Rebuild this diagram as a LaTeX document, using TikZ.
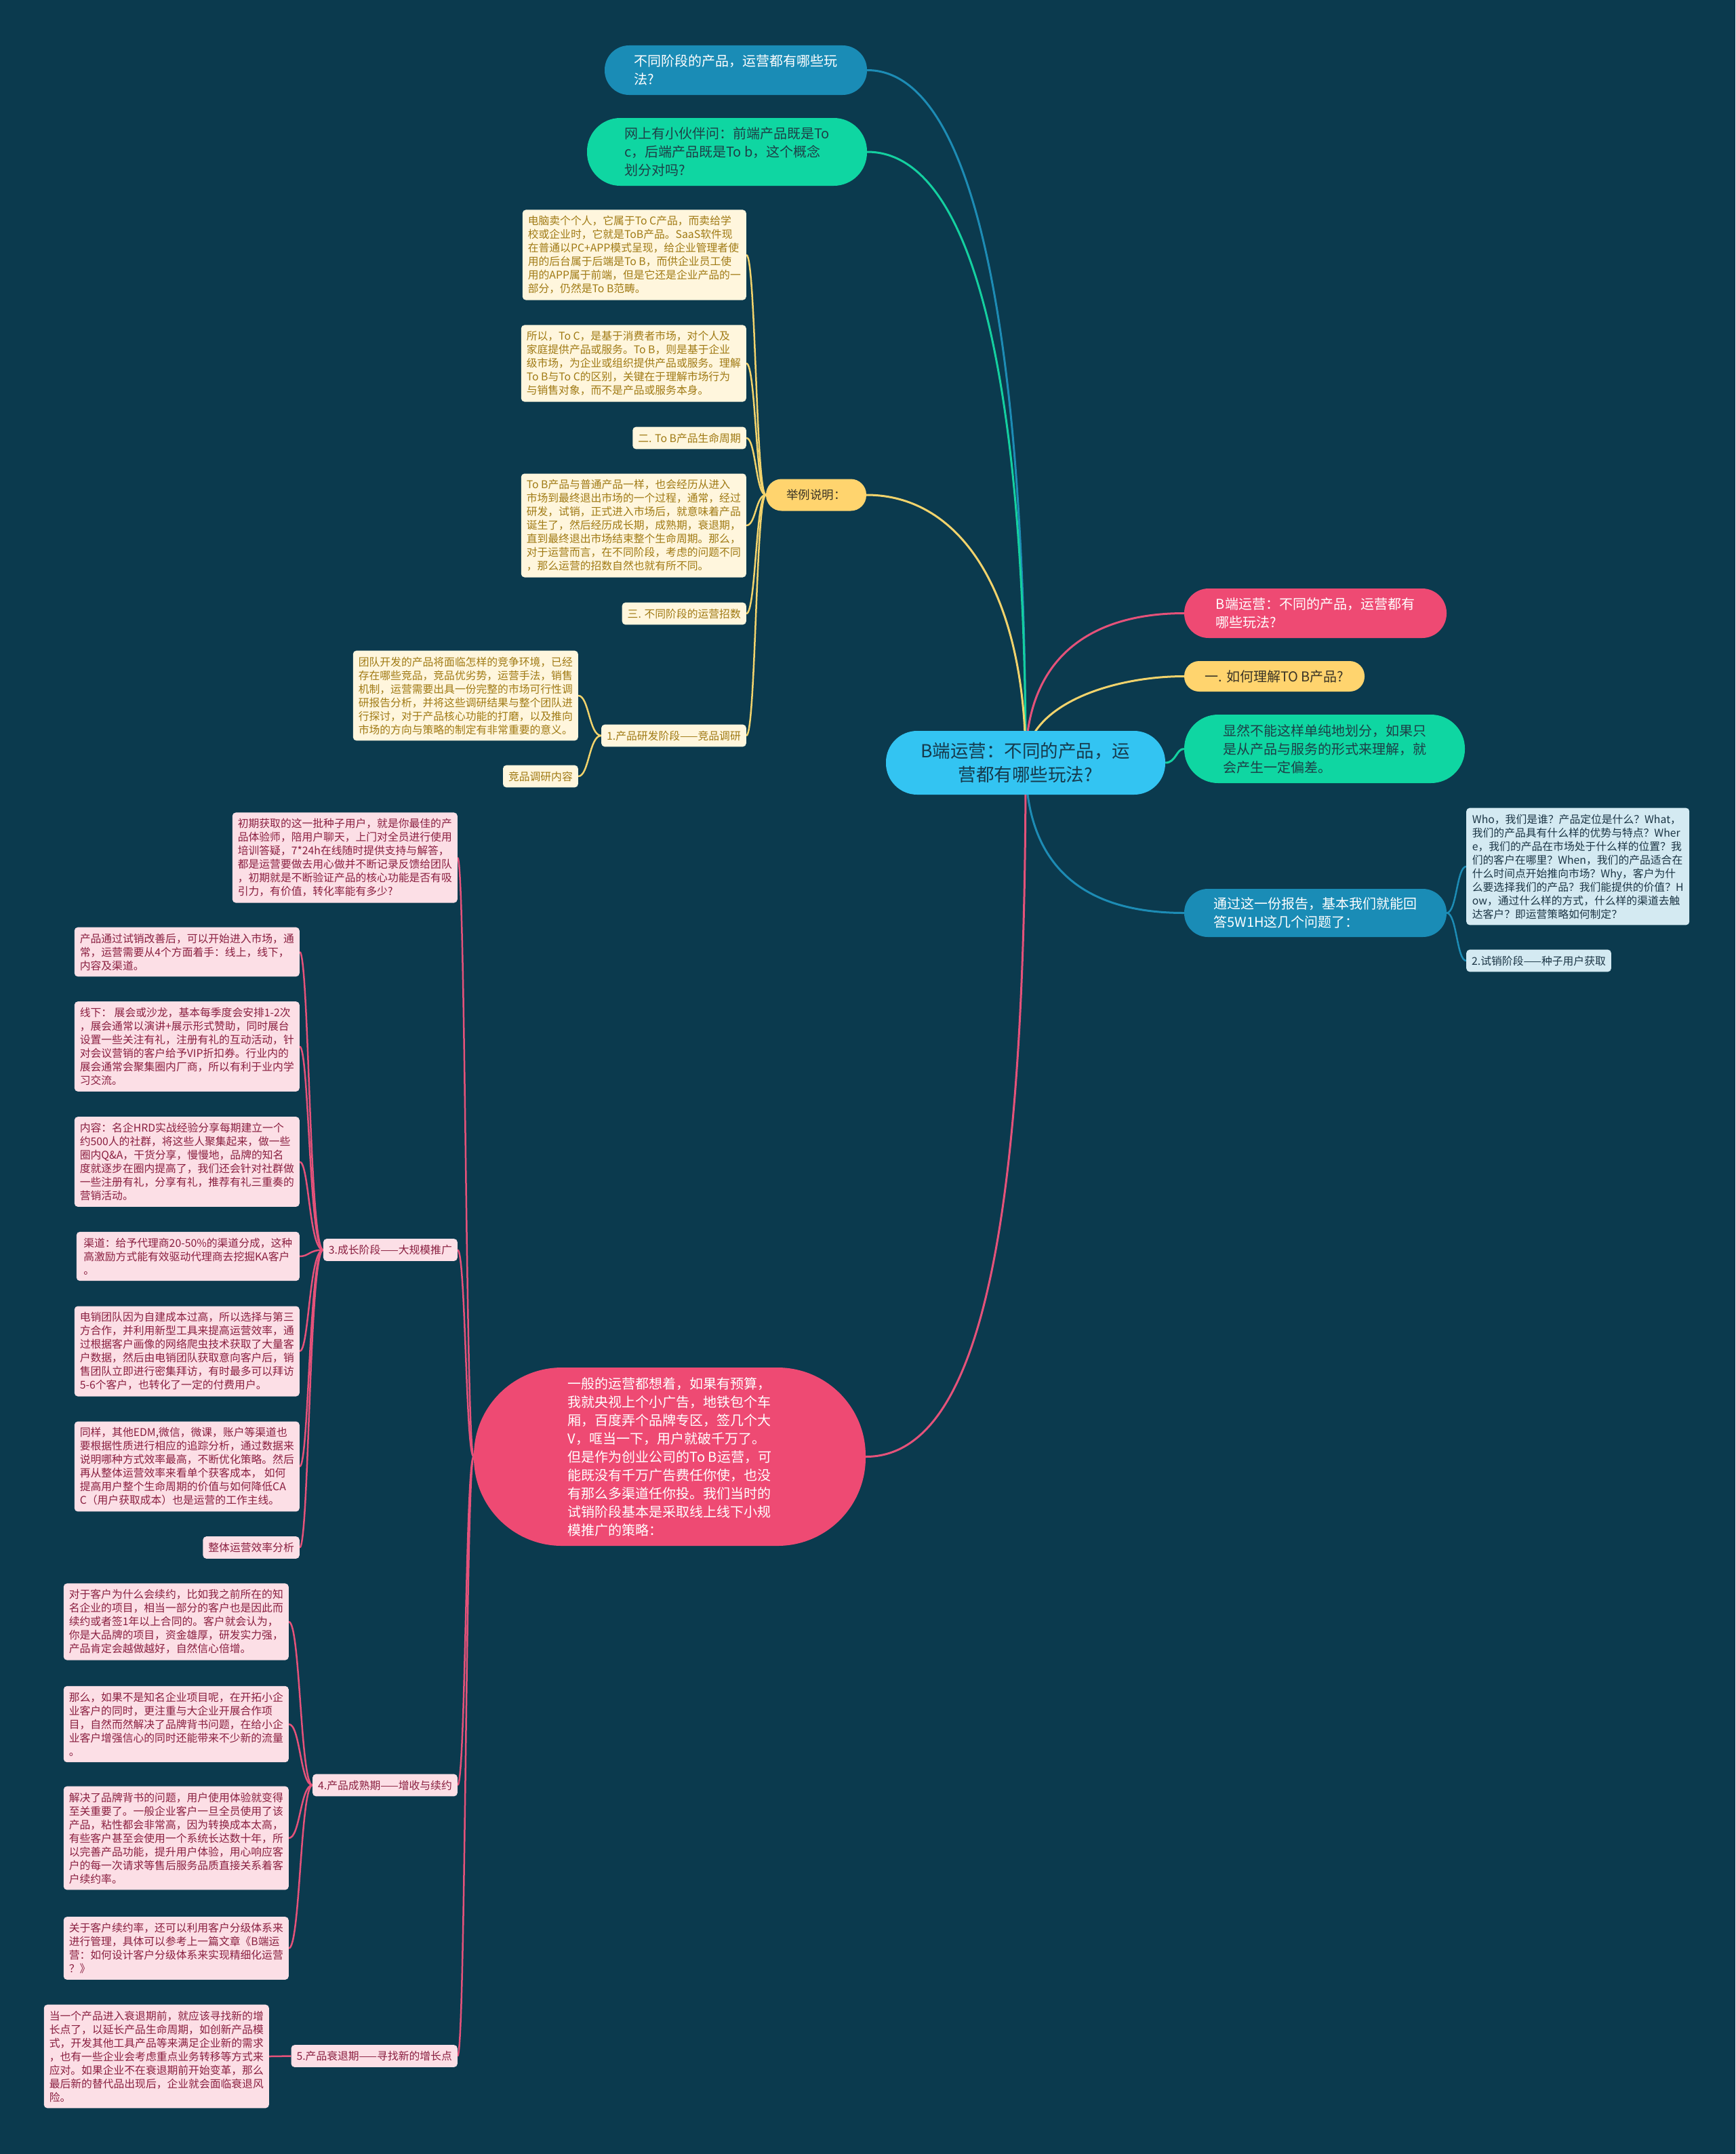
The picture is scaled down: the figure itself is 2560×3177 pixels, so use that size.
\documentclass[tikz,border=0pt]{standalone}
\usepackage{fontspec}
\setmainfont{Noto Sans CJK SC}
\usetikzlibrary{backgrounds}
\definecolor{bgc}{HTML}{0B3A4E}
\definecolor{rootc}{HTML}{33C4F2}
\definecolor{roottx}{HTML}{163A4C}
\definecolor{bluec}{HTML}{1A8CB6}
\definecolor{greenc}{HTML}{0FD6A2}
\definecolor{greentx}{HTML}{1E3F47}
\definecolor{yellowc}{HTML}{FFD46E}
\definecolor{yellowtx}{HTML}{3A3426}
\definecolor{pinkc}{HTML}{EE4A73}
\definecolor{creamc}{HTML}{FFF6DD}
\definecolor{goldtx}{HTML}{A07A14}
\definecolor{pinklc}{HTML}{FCDFE6}
\definecolor{pinktx}{HTML}{8A1F40}
\definecolor{bluelc}{HTML}{D4EAF2}
\definecolor{bluetx}{HTML}{1B3545}
\definecolor{ylinec}{HTML}{F2D36C}
\definecolor{plinec}{HTML}{E5527A}
\definecolor{blinec}{HTML}{1D8CB5}
\definecolor{glinec}{HTML}{14D0A0}
\newcommand\mmlink[4]{\draw[#1] (#2) .. controls (#3 |- #2) and (#3 |- #4) .. (#4);}
\tikzset{
  base/.style={align=left, inner xsep=8pt, inner ysep=9pt},
  pill/.style={base, font=\fontsize{20}{27}\selectfont},
  notebox/.style={base, rounded corners=5pt, font=\fontsize{15.8}{20}\selectfont},
  ynote/.style={notebox, fill=creamc, text=goldtx},
  pnote/.style={notebox, fill=pinklc, text=pinktx},
  bnote/.style={notebox, fill=bluelc, text=bluetx},
  wide/.style={minimum width=329pt},
  lnY/.style={draw=ylinec, line width=3pt},
  lnP/.style={draw=plinec, line width=3pt},
  lnB/.style={draw=blinec, line width=3pt},
  lnG/.style={draw=glinec, line width=3pt},
  subY/.style={draw=ylinec, line width=2.5pt},
  subP/.style={draw=plinec, line width=2.5pt},
  subB/.style={draw=blinec, line width=2.5pt},
}
\begin{document}
\begin{tikzpicture}[x=1pt,y=-1pt]
\useasboundingbox (0,0) rectangle (2560,3177);

% root
\node[pill, align=center, fill=rootc, text=roottx, minimum width=412pt, minimum height=94pt, rounded corners=46pt, font=\fontsize{26.5}{35}\selectfont] (root) at (1513,1125) {B端运营：不同的产品，运\\营都有哪些玩法?};

% top
\node[pill, fill=bluec, text=white, minimum width=387pt, minimum height=73pt, rounded corners=36pt] (t1) at (1085.5,103.5) {不同阶段的产品，运营都有哪些玩\\法?};
\node[pill, fill=greenc, text=greentx, minimum width=413pt, minimum height=100pt, rounded corners=49pt] (t2) at (1072.5,224) {网上有小伙伴问：前端产品既是To\\c，后端产品既是To b，这个概念\\划分对吗?};

% 举例说明
\node[pill, fill=yellowc, text=yellowtx, minimum width=148pt, minimum height=47pt, rounded corners=23pt, font=\fontsize{17.5}{22}\selectfont] (jl) at (1204,730) {举例说明：};

\node[ynote, wide, anchor=east] (y1) at (1101,376) {电脑卖个个人，它属于To C产品，而卖给学\\校或企业时，它就是ToB产品。SaaS软件现\\在普通以PC+APP模式呈现，给企业管理者使\\用的后台属于后端是To B，而供企业员工使\\用的APP属于前端，但是它还是企业产品的一\\部分，仍然是To B范畴。};
\node[ynote, wide, anchor=east] (y2) at (1101,536) {所以，To C，是基于消费者市场，对个人及\\家庭提供产品或服务。To B，则是基于企业\\级市场，为企业或组织提供产品或服务。理解\\To B与To C的区别，关键在于理解市场行为\\与销售对象，而不是产品或服务本身。};
\node[ynote, anchor=east] (y3) at (1101,646) {二. To B产品生命周期};
\node[ynote, wide, anchor=east] (y4) at (1101,775) {To B产品与普通产品一样，也会经历从进入\\市场到最终退出市场的一个过程，通常，经过\\研发，试销，正式进入市场后，就意味着产品\\诞生了，然后经历成长期，成熟期，衰退期，\\直到最终退出市场结束整个生命周期。那么，\\对于运营而言，在不同阶段，考虑的问题不同\\，那么运营的招数自然也就有所不同。};
\node[ynote, anchor=east] (y5) at (1101,905) {三. 不同阶段的运营招数};
\node[ynote, anchor=east] (y7) at (1101,1085) {1.产品研发阶段——竞品调研};
\node[ynote, wide, anchor=east] (y6) at (853,1026) {团队开发的产品将面临怎样的竞争环境，已经\\存在哪些竞品，竞品优劣势，运营手法，销售\\机制，运营需要出具一份完整的市场可行性调\\研报告分析，并将这些调研结果与整个团队进\\行探讨，对于产品核心功能的打磨，以及推向\\市场的方向与策略的制定有非常重要的意义。};
\node[ynote, anchor=east] (y8) at (853,1145) {竞品调研内容};

% right side
\node[pill, fill=pinkc, text=white, minimum width=387pt, minimum height=73pt, rounded corners=36pt] (r1) at (1940.5,904.5) {B端运营：不同的产品，运营都有\\哪些玩法?};
\node[pill, fill=yellowc, text=yellowtx, minimum width=266pt, minimum height=45pt, rounded corners=22pt] (r2) at (1880,997.5) {一. 如何理解TO B产品?};
\node[pill, fill=greenc, text=greentx, minimum width=414pt, minimum height=101pt, rounded corners=50pt] (r3) at (1954,1104.5) {显然不能这样单纯地划分，如果只\\是从产品与服务的形式来理解，就\\会产生一定偏差。};
\node[pill, fill=bluec, text=white, minimum width=387pt, minimum height=71pt, rounded corners=35pt] (r4) at (1940.5,1346.5) {通过这一份报告，基本我们就能回\\答5W1H这几个问题了：};
\node[bnote, wide, anchor=west] (r5) at (2163,1278) {Who，我们是谁？产品定位是什么？What，\\我们的产品具有什么样的优势与特点？Wher\\e，我们的产品在市场处于什么样的位置？我\\们的客户在哪里？When，我们的产品适合在\\什么时间点开始推向市场？Why，客户为什\\么要选择我们的产品？我们能提供的价值？H\\ow，通过什么样的方式，什么样的渠道去触\\达客户？即运营策略如何制定？};
\node[bnote, anchor=west] (r6) at (2163,1417) {2.试销阶段——种子用户获取};

% pink main
\node[pill, fill=pinkc, text=white, minimum width=578pt, minimum height=263pt, rounded corners=130pt] (pm) at (988,2148.5) {一般的运营都想着，如果有预算，\\我就央视上个小广告，地铁包个车\\厢，百度弄个品牌专区，签几个大\\V，哐当一下，用户就破千万了。\\但是作为创业公司的To B运营，可\\能既没有千万广告费任你使，也没\\有那么多渠道任你投。我们当时的\\试销阶段基本是采取线上线下小规\\模推广的策略：};

\node[pnote, wide, anchor=east] (p1) at (675,1265) {初期获取的这一批种子用户，就是你最佳的产\\品体验师，陪用户聊天，上门对全员进行使用\\培训答疑，7*24h在线随时提供支持与解答，\\都是运营要做去用心做并不断记录反馈给团队\\，初期就是不断验证产品的核心功能是否有吸\\引力，有价值，转化率能有多少?};
\node[pnote, anchor=east] (p3) at (675,1843.5) {3.成长阶段——大规模推广};
\node[pnote, anchor=east] (p4) at (675,2633) {4.产品成熟期——增收与续约};
\node[pnote, anchor=east] (p5) at (675,3032.5) {5.产品衰退期——寻找新的增长点};

\node[pnote, wide, anchor=east] (n1) at (442,1404) {产品通过试销改善后，可以开始进入市场，通\\常，运营需要从4个方面着手：线上，线下，\\内容及渠道。};
\node[pnote, wide, anchor=east] (n2) at (442,1543.5) {线下： 展会或沙龙，基本每季度会安排1-2次\\，展会通常以演讲+展示形式赞助，同时展台\\设置一些关注有礼，注册有礼的互动活动，针\\对会议营销的客户给予VIP折扣券。行业内的\\展会通常会聚集圈内厂商，所以有利于业内学\\习交流。};
\node[pnote, wide, anchor=east] (n3) at (442,1713.5) {内容：名企HRD实战经验分享每期建立一个\\约500人的社群，将这些人聚集起来，做一些\\圈内Q\&A，干货分享，慢慢地，品牌的知名\\度就逐步在圈内提高了，我们还会针对社群做\\一些注册有礼，分享有礼，推荐有礼三重奏的\\营销活动。};
\node[pnote, wide, anchor=east] (n4) at (442,1853) {渠道：给予代理商20-50\%的渠道分成，这种\\高激励方式能有效驱动代理商去挖掘KA客户\\。};
\node[pnote, wide, anchor=east] (n5) at (442,1993) {电销团队因为自建成本过高，所以选择与第三\\方合作，并利用新型工具来提高运营效率，通\\过根据客户画像的网络爬虫技术获取了大量客\\户数据，然后由电销团队获取意向客户后，销\\售团队立即进行密集拜访，有时最多可以拜访\\5-6个客户，也转化了一定的付费用户。};
\node[pnote, wide, anchor=east] (n6) at (442,2163) {同样，其他EDM,微信，微课，账户等渠道也\\要根据性质进行相应的追踪分析，通过数据来\\说明哪种方式效率最高，不断优化策略。然后\\再从整体运营效率来看单个获客成本， 如何\\提高用户整个生命周期的价值与如何降低CA\\C（用户获取成本）也是运营的工作主线。};
\node[pnote, anchor=east] (n7) at (442,2282.5) {整体运营效率分析};

\node[pnote, wide, anchor=east] (q1) at (426,2392) {对于客户为什么会续约，比如我之前所在的知\\名企业的项目，相当一部分的客户也是因此而\\续约或者签1年以上合同的。客户就会认为，\\你是大品牌的项目，资金雄厚，研发实力强，\\产品肯定会越做越好，自然信心倍增。};
\node[pnote, wide, anchor=east] (q2) at (426,2543) {那么，如果不是知名企业项目呢，在开拓小企\\业客户的同时，更注重与大企业开展合作项\\目，自然而然解决了品牌背书问题，在给小企\\业客户增强信心的同时还能带来不少新的流量\\。};
\node[pnote, wide, anchor=east] (q3) at (426,2711) {解决了品牌背书的问题，用户使用体验就变得\\至关重要了。一般企业客户一旦全员使用了该\\产品，粘性都会非常高，因为转换成本太高，\\有些客户甚至会使用一个系统长达数十年，所\\以完善产品功能，提升用户体验，用心响应客\\户的每一次请求等售后服务品质直接关系着客\\户续约率。};
\node[pnote, wide, anchor=east] (q4) at (426,2873.5) {关于客户续约率，还可以利用客户分级体系来\\进行管理，具体可以参考上一篇文章《B端运\\营：如何设计客户分级体系来实现精细化运营\\？》};
\node[pnote, wide, anchor=east] (q5) at (397,3033) {当一个产品进入衰退期前，就应该寻找新的增\\长点了，以延长产品生命周期，如创新产品模\\式，开发其他工具产品等来满足企业新的需求\\，也有一些企业会考虑重点业务转移等方式来\\应对。如果企业不在衰退期前开始变革，那么\\最后新的替代品出现后，企业就会面临衰退风\\险。};

% spines
\coordinate (ysp) at (1115,0);
\coordinate (y7sp) at (869,0);
\coordinate (bsp) at (2149,0);
\coordinate (psp) at (687,0);
\coordinate (p3sp) at (456,0);
\coordinate (p4sp) at (443,0);

\begin{pgfonlayer}{background}
\fill[bgc] (0,0) rectangle (2560,3177);
% root links
\draw[lnB] (root.center) .. controls (1513,550) and (1450,103.5) .. (t1.east);
\draw[lnG] (root.center) .. controls (1513,620) and (1450,224) .. (t2.east);
\draw[lnY] (root.center) .. controls (1513,880) and (1420,730) .. (jl.east);
\draw[lnP] (root.center) .. controls (1513,960) and (1620,904.5) .. (r1.west);
\draw[lnY] (root.center) .. controls (1513,1040) and (1640,997.5) .. (r2.west);
\draw[lnG] (root.east) .. controls (1735,1125) and (1735,1104.5) .. (r3.west);
\draw[lnB] (root.center) .. controls (1513,1280) and (1600,1346.5) .. (r4.west);
\draw[lnP] (root.center) .. controls (1513,1750) and (1460,2148.5) .. (pm.east);
% 举例说明
\mmlink{subY}{jl.west}{ysp}{y1.east}
\mmlink{subY}{jl.west}{ysp}{y2.east}
\mmlink{subY}{jl.west}{ysp}{y3.east}
\mmlink{subY}{jl.west}{ysp}{y4.east}
\mmlink{subY}{jl.west}{ysp}{y5.east}
\mmlink{subY}{jl.west}{ysp}{y7.east}
\mmlink{subY}{y7.west}{y7sp}{y6.east}
\mmlink{subY}{y7.west}{y7sp}{y8.east}
% R4
\mmlink{subB}{r4.east}{bsp}{r5.west}
\mmlink{subB}{r4.east}{bsp}{r6.west}
% pink main
\mmlink{subP}{pm.west}{psp}{p1.east}
\mmlink{subP}{pm.west}{psp}{p3.east}
\mmlink{subP}{pm.west}{psp}{p4.east}
\mmlink{subP}{pm.west}{psp}{p5.east}
\mmlink{subP}{p3.west}{p3sp}{n1.east}
\mmlink{subP}{p3.west}{p3sp}{n2.east}
\mmlink{subP}{p3.west}{p3sp}{n3.east}
\mmlink{subP}{p3.west}{p3sp}{n4.east}
\mmlink{subP}{p3.west}{p3sp}{n5.east}
\mmlink{subP}{p3.west}{p3sp}{n6.east}
\mmlink{subP}{p3.west}{p3sp}{n7.east}
\mmlink{subP}{p4.west}{p4sp}{q1.east}
\mmlink{subP}{p4.west}{p4sp}{q2.east}
\mmlink{subP}{p4.west}{p4sp}{q3.east}
\mmlink{subP}{p4.west}{p4sp}{q4.east}
\draw[subP] (p5.west) -- (q5.east);
\end{pgfonlayer}
\end{tikzpicture}
\end{document}
